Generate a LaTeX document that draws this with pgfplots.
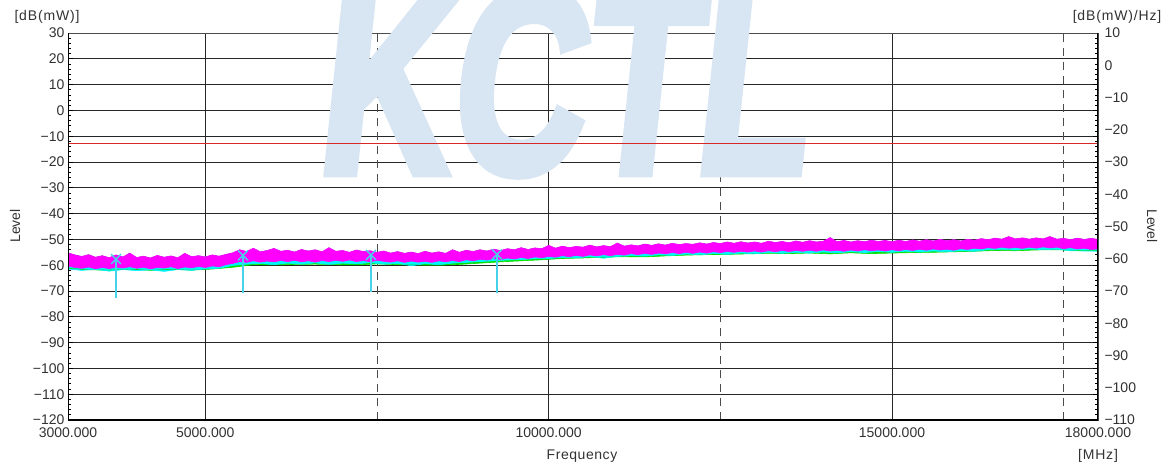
\documentclass[border=0pt]{standalone}
\usepackage{pgfplots}
\pgfplotsset{compat=1.18}
\usepackage{pgfplotstable}
\usepgfplotslibrary{fillbetween}
\usepackage{graphicx}
\usepackage{fontspec}
\setmainfont{Liberation Sans}
\newfontfamily\wmfont{Liberation Sans Bold}[FakeSlant=0.15, FakeBold=4]
\definecolor{wm}{RGB}{216,229,242}
\definecolor{txt}{RGB}{50,50,50}
\definecolor{mag}{RGB}{255,0,255}
\definecolor{cyn}{RGB}{0,245,255}
\definecolor{grn}{RGB}{0,225,0}
\definecolor{lim}{RGB}{215,40,40}
\definecolor{mk}{RGB}{70,210,235}

\pgfplotstableread{
x top bot
3000 -55.2 -60.3
3100 -56.0 -60.9
3200 -56.6 -61.2
3300 -55.9 -60.7
3400 -56.9 -61.4
3500 -56.3 -60.9
3600 -57.1 -61.3
3700 -56.0 -60.8
3800 -56.8 -61.1
3900 -55.3 -60.6
4000 -57.0 -61.2
4100 -56.5 -60.8
4200 -57.2 -61.4
4300 -56.2 -60.9
4400 -56.9 -61.1
4500 -56.4 -60.6
4600 -57.1 -61.3
4700 -55.4 -60.7
4800 -56.7 -61.0
4900 -56.3 -60.5
5000 -56.8 -60.9
5100 -56.0 -60.3
5200 -56.5 -60.6
5300 -55.8 -59.8
5400 -55.2 -59.3
5500 -54.0 -58.6
5600 -54.7 -58.9
5700 -53.4 -58.3
5800 -54.8 -58.8
5900 -54.3 -58.4
6000 -53.5 -58.7
6100 -54.6 -58.2
6200 -54.2 -58.6
6300 -54.9 -58.1
6400 -53.9 -58.7
6500 -54.5 -58.3
6600 -54.0 -58.8
6700 -54.8 -58.2
6800 -53.2 -58.6
6900 -54.6 -58.1
7000 -54.3 -58.5
7100 -55.0 -58.0
7200 -54.1 -58.6
7300 -54.7 -58.2
7400 -54.4 -58.7
7500 -55.0 -58.1
7600 -54.5 -58.5
7700 -55.3 -58.8
7800 -54.7 -58.3
7900 -55.4 -58.9
8000 -54.9 -58.4
8100 -55.5 -58.8
8200 -54.6 -58.5
8300 -55.3 -58.9
8400 -54.8 -58.3
8500 -55.4 -58.7
8600 -54.0 -58.2
8700 -55.0 -58.6
8800 -54.2 -57.9
8900 -54.7 -58.3
9000 -54.0 -57.7
9100 -54.5 -58.0
9200 -53.8 -57.4
9300 -54.3 -57.8
9400 -53.6 -57.2
9500 -54.0 -57.6
9600 -53.2 -57.0
9700 -53.9 -57.4
9800 -53.3 -56.8
9900 -53.6 -57.1
10000 -52.3 -56.6
10100 -53.4 -56.9
10200 -52.6 -56.3
10300 -53.2 -56.7
10400 -52.7 -56.2
10500 -53.0 -56.6
10600 -52.2 -56.0
10700 -52.9 -56.4
10800 -52.4 -55.9
10900 -52.8 -56.3
11000 -51.4 -55.8
11100 -52.6 -56.1
11200 -52.1 -55.5
11300 -52.5 -55.9
11400 -51.8 -55.4
11500 -52.3 -55.8
11600 -51.7 -55.3
11700 -52.2 -55.6
11800 -51.5 -55.1
11900 -52.0 -55.5
12000 -51.6 -55.0
12100 -51.9 -55.4
12200 -51.3 -54.9
12300 -51.8 -55.3
12400 -51.2 -54.8
12500 -51.6 -55.1
12600 -51.0 -54.7
12700 -51.5 -55.0
12800 -50.9 -54.6
12900 -51.4 -54.9
13000 -51.0 -54.5
13100 -51.5 -54.9
13200 -50.7 -54.4
13300 -51.2 -54.8
13400 -50.8 -54.3
13500 -51.3 -54.7
13600 -50.6 -54.3
13700 -51.1 -54.6
13800 -50.5 -54.2
13900 -51.0 -54.6
14000 -50.7 -54.1
14100 -49.3 -54.5
14200 -50.9 -54.2
14300 -50.4 -54.6
14400 -51.0 -54.1
14500 -50.5 -54.5
14600 -50.9 -54.0
14700 -50.3 -54.4
14800 -50.8 -54.1
14900 -50.4 -54.5
15000 -50.9 -54.0
15100 -50.3 -54.4
15200 -50.8 -53.9
15300 -50.2 -54.3
15400 -50.7 -53.8
15500 -50.1 -54.2
15600 -50.6 -53.7
15700 -50.0 -54.1
15800 -50.5 -53.8
15900 -50.1 -54.2
16000 -50.6 -53.6
16100 -50.0 -53.9
16200 -50.3 -53.4
16300 -49.7 -53.7
16400 -50.1 -53.2
16500 -49.5 -53.5
16600 -49.9 -53.0
16700 -48.9 -53.4
16800 -49.8 -53.1
16900 -49.4 -53.5
17000 -49.9 -53.0
17100 -49.4 -53.4
17200 -49.8 -52.9
17300 -48.9 -53.3
17400 -49.9 -53.0
17500 -49.6 -53.6
17600 -50.1 -53.2
17700 -49.5 -53.7
17800 -50.0 -53.4
17900 -49.6 -53.9
18000 -50.0 -53.7
}\magtab

\pgfplotstableread{
x lo
3000 -61.5
3200 -62.0
3400 -61.6
3600 -62.3
3800 -61.7
4000 -62.1
4200 -61.8
4400 -62.4
4600 -61.7
4800 -62.0
5000 -61.4
5200 -61.2
5400 -60.1
5600 -59.6
5800 -59.3
6000 -59.8
6200 -59.2
6400 -59.6
6600 -59.1
6800 -59.7
7000 -59.2
7200 -59.5
7400 -59.0
7600 -59.6
7800 -59.3
8000 -60.2
8200 -59.4
8400 -59.8
8600 -59.2
8800 -58.9
9000 -58.6
9200 -58.3
9400 -58.0
9600 -57.8
9800 -57.5
10000 -57.4
10200 -57.0
10400 -57.2
10600 -56.7
10800 -57.3
11000 -56.6
11200 -56.3
11400 -56.5
11600 -56.0
11800 -56.2
12000 -55.7
12200 -56.0
12400 -55.5
12600 -55.8
12800 -55.3
13000 -55.6
13200 -55.1
13400 -55.4
13600 -55.0
13800 -55.3
14000 -54.9
14200 -55.2
14400 -54.8
14600 -55.1
14800 -54.7
15000 -55.0
15200 -54.6
15400 -54.9
15600 -54.5
15800 -54.8
16000 -54.4
16200 -54.6
16400 -54.0
16600 -53.8
16800 -54.1
17000 -53.7
17200 -54.0
17400 -53.8
17600 -54.4
17800 -54.5
18000 -54.6
}\cyntab

\pgfplotstableread{
x lo
3000 -61.2
3300 -61.8
3600 -61.9
3900 -61.5
4200 -62.0
4500 -61.6
4800 -61.9
5100 -61.5
5400 -60.8
5700 -59.8
6000 -59.9
6300 -59.7
6600 -59.6
6900 -59.8
7200 -59.9
7500 -59.5
7800 -59.8
8100 -59.9
8400 -60.0
8700 -59.7
9000 -59.2
9300 -58.7
9600 -58.3
9900 -57.9
10200 -57.4
10500 -57.2
10800 -56.9
11100 -56.7
11400 -56.8
11700 -56.4
12000 -56.1
12300 -55.9
12600 -55.8
12900 -55.6
13200 -55.4
13500 -55.5
13800 -55.3
14100 -55.6
14400 -55.2
14700 -55.5
15000 -55.3
15300 -55.1
15600 -55.0
15900 -54.8
16200 -54.6
16500 -54.3
16800 -54.4
17100 -54.1
17400 -54.0
17700 -54.3
18000 -54.2
}\grntab

\begin{document}
\begin{tikzpicture}[x=1pt,y=1pt]
\node[anchor=base west, inner sep=0pt, text=wm] at (247,248)
  {\scalebox{0.7}[1]{\fontsize{262}{262}\selectfont\wmfont KCTL}};

\begin{axis}[
  at={(0,0)}, anchor=south west,
  width=1030pt, height=387pt, scale only axis,
  xmin=3000, xmax=18000, ymin=-120, ymax=30,
  scaled x ticks=false, scaled y ticks=false,
  axis line style={draw=black!70, line width=0.8pt},
  xtick={3000,5000,10000,15000,18000},
  xticklabels={3000.000,5000.000,10000.000,15000.000,18000.000},
  xtick style={draw=none},
  extra x ticks={7500,12500,17500},
  extra x tick labels={},
  extra x tick style={grid=major, major grid style={draw=black!70, line width=0.9pt, dash pattern=on 8pt off 6pt}},
  xmajorgrids=true,
  ytick={-120,-110,...,30},
  yticklabels={−120,−110,−100,−90,−80,−70,−60,−50,−40,−30,−20,−10,0,10,20,30},
  minor y tick num=4,
  ymajorgrids=true,
  major grid style={draw=black!85, line width=0.9pt},
  ytick pos=both, yticklabel pos=left,
  tick align=inside,
  major tick length=5pt, minor tick length=3pt,
  tick style={black, line width=0.8pt},
  ticklabel style={font=\fontsize{14}{14}\selectfont, text=txt},
  xticklabel style={yshift=-4pt},
  clip=true,
]
\addplot[name path=mt, draw=none, forget plot] table[x=x,y=top]{\magtab};
\addplot[name path=mb, draw=none, forget plot] table[x=x,y=bot]{\magtab};
\addplot[name path=cl, draw=none, forget plot] table[x=x,y=lo]{\cyntab};
\addplot[name path=gl, draw=none, forget plot] table[x=x,y=lo]{\grntab};

\addplot[fill=grn, draw=none] fill between[of=mt and gl];
\addplot[grn, line width=0.6pt] table[x=x,y=lo]{\grntab};
\addplot[fill=cyn, draw=none] fill between[of=mt and cl];
\addplot[cyn, line width=0.6pt] table[x=x,y=lo]{\cyntab};
\addplot[fill=mag, draw=none] fill between[of=mt and mb];
\addplot[mag, line width=0.6pt] table[x=x,y=top]{\magtab};
\addplot[mag, line width=0.6pt] table[x=x,y=bot]{\magtab};

% limit line
\addplot[lim, line width=0.9pt] coordinates {(3000,-13) (18000,-13)};

% markers and marker lines
\addplot[mk, line width=1.2pt] coordinates {(3699,-57.6) (3699,-72.7)};
\addplot[mk, line width=1.2pt] coordinates {(5548,-56.2) (5548,-70.8)};
\addplot[mk, line width=1.2pt] coordinates {(7412,-56.0) (7412,-70.2)};
\addplot[mk, line width=1.2pt] coordinates {(9247,-55.8) (9247,-70.8)};
\addplot[mk, only marks, mark=x, mark size=7pt, line width=1.4pt] coordinates {(3699,-57.6) (5548,-56.2) (7412,-56.0) (9247,-55.8)};

\draw[black, line width=2pt] (rel axis cs:0,1) -- (rel axis cs:0,0) -- (rel axis cs:1,0);
\draw[black, line width=1.2pt] (rel axis cs:1,0) -- (rel axis cs:1,1);
\end{axis}

\begin{axis}[
  at={(0,0)}, anchor=south west,
  width=1030pt, height=387pt, scale only axis,
  xmin=3000, xmax=18000, ymin=-110, ymax=10,
  hide x axis, axis y line*=right,
  y axis line style={draw=none},
  ytick={-110,-100,...,10},
  yticklabels={−110,−100,−90,−80,−70,−60,−50,−40,−30,−20,−10,0,10},
  ytick style={draw=none},
  yticklabel style={font=\fontsize{14}{14}\selectfont, text=txt, xshift=3pt},
]
\addplot[draw=none, forget plot] coordinates {(3000,-110) (18000,10)};
\end{axis}

\node[text=txt, font=\fontsize{14}{14}\selectfont\addfontfeature{LetterSpace=6}] at (-21,403) {[dB(mW)]};
\node[text=txt, font=\fontsize{14}{14}\selectfont\addfontfeature{LetterSpace=6}] at (1049,403) {[dB(mW)/Hz]};
\node[text=txt, font=\fontsize{14}{14}\selectfont, rotate=90] at (-53,194) {Level};
\node[text=txt, font=\fontsize{14}{14}\selectfont, rotate=-90] at (1084,194) {Level};
\node[text=txt, font=\fontsize{14}{14}\selectfont\addfontfeature{LetterSpace=4}] at (514,-36) {Frequency};
\node[text=txt, font=\fontsize{14}{14}\selectfont\addfontfeature{LetterSpace=6}] at (1030,-36) {[MHz]};
\pgfresetboundingbox
\path[use as bounding box] (-68,-47) rectangle (1107,420);
\end{tikzpicture}
\end{document}
